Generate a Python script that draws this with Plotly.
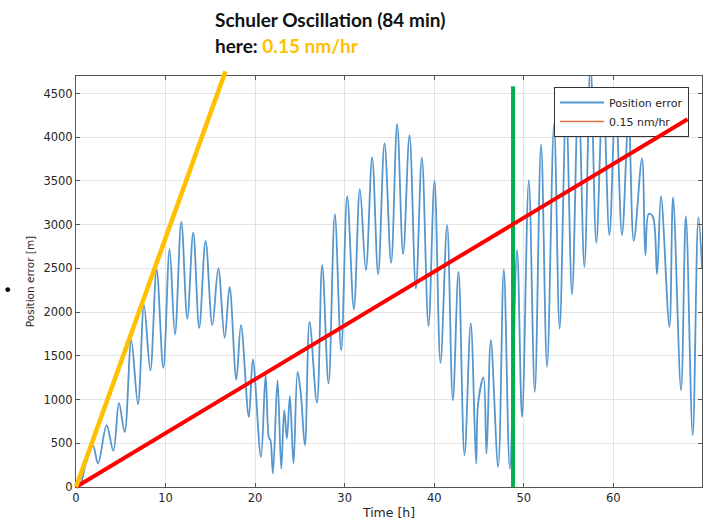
import plotly.graph_objects as go

# ---------------- data ----------------
blue_t = [0.0, 0.45, 1.05, 1.9, 2.46, 3.42, 4.17, 4.80, 5.43, 6.17, 6.92, 7.59, 8.30, 9.00,
          9.75, 10.45, 11.05, 11.76, 12.43, 13.09, 13.76, 14.47, 15.22, 15.89, 16.60, 17.15,
          17.90, 18.42, 19.30, 19.75, 20.65, 21.17, 21.55, 21.70, 21.99, 22.50, 22.92, 23.25,
          23.55, 23.88, 24.29, 24.74, 25.10, 25.56, 26.08, 26.90, 27.49, 28.20, 28.90, 29.61,
          30.28, 31.03, 31.70, 32.37, 33.07, 33.74, 34.45, 35.19, 35.86, 36.53, 37.24, 37.95,
          38.62, 39.36, 40.03, 40.70, 41.44, 42.08, 42.71, 43.38, 44.08, 44.68, 44.90, 45.50,
          45.84, 46.32, 47.14, 47.77, 48.44, 49.25, 49.81, 50.56, 51.23, 51.93, 52.60, 53.38,
          54.00, 54.73, 55.39, 56.10, 56.77, 57.45, 58.10, 58.85, 59.56, 60.25, 60.97, 61.70,
          62.28, 63.20, 63.58, 63.95, 64.40, 64.88, 65.32, 66.26, 66.67, 67.56, 68.10, 68.86,
          69.50, 69.90]
blue_v = [0, 20, 250, 470, 268, 706, 412, 961, 629, 1678, 946, 2079, 1335, 2487,
          1362, 2720, 1744, 3032, 1926, 2911, 1820, 2815, 1850, 2499, 1705, 2288,
          1229, 1850, 801, 1458, 343, 1278, 560, 540, 153, 1221, 210, 878,
          554, 1038, 268, 1316, 1068, 477, 1888, 961, 2537, 1183, 3120, 1564,
          3326, 2030, 3406, 2479, 3769, 2434, 3929, 2563, 4150, 2662, 4024, 2270,
          3769, 1839, 3501, 1419, 2994, 992, 2460, 363, 1870, 268, 954, 1252,
          382, 1678, 229, 2487, 210, 2708, 801, 3509, 1087, 3921, 1373, 4150,
          1812, 4330, 2205, 4520, 2517, 4850, 2792, 4560, 2880, 4420, 2880, 4230,
          2815, 3757, 2651, 3124, 3093, 2434, 3326, 1831, 3311, 1106, 3097, 592,
          3082, 2500]

rate_t = [0, 16.75]        # 0.15 nm/hr line (and painted orange line)
rate_v = [0, 4770]
red_t = [0, 68.45]         # painted red line
red_v = [0, 4215]
green_t = [48.8, 48.8]     # painted green marker
green_v = [0, 4600]

x_ticks = [0, 10, 20, 30, 40, 50, 60]
y_ticks = [0, 500, 1000, 1500, 2000, 2500, 3000, 3500, 4000, 4500]

# ---------------- figure ----------------
fig = go.Figure()
fig.add_trace(go.Scatter(x=blue_t, y=blue_v, mode='lines', name='Position error',
                         line=dict(color='#5596CE', width=1.8, shape='spline', smoothing=1.0)))
fig.add_trace(go.Scatter(x=rate_t, y=rate_v, mode='lines', name='0.15 nm/hr',
                         line=dict(color='#E07040', width=1.5)))


def seg(t, v, color, w):
    return dict(x=t[0], y=v[0], ax=t[1], ay=v[1], xref='x', yref='y', axref='x', ayref='y',
                showarrow=True, arrowhead=0, arrowwidth=w, arrowcolor=color, text='',
                standoff=0, startstandoff=0)


annotations = [
    seg(green_t, green_v, '#00B050', 4),
    seg(red_t, red_v, '#FF0000', 4),
    seg(rate_t, rate_v, '#FFC000', 4.5),
    dict(text='<b>Schuler Oscillation (84 min)</b>', xref='paper', yref='paper',
         x=0.2188, y=1.1363, xanchor='left', yanchor='middle', showarrow=False,
         font=dict(family='Lato', size=19, color='#111111')),
    dict(text="<b>here: <span style='color:#FFC000'>0.15 nm/hr</span></b>", xref='paper', yref='paper',
         x=0.2188, y=1.0754, xanchor='left', yanchor='middle', showarrow=False,
         font=dict(family='Lato', size=19, color='#111111')),
    dict(text='•', xref='paper', yref='paper', x=-0.1102, y=0.4793, xanchor='center', yanchor='middle',
         showarrow=False, font=dict(family='DejaVu Sans', size=16, color='#000000')),
]

fig.update_layout(
    width=704, height=521,
    margin=dict(l=76, r=2, t=76, b=34),
    paper_bgcolor='white', plot_bgcolor='white',
    font=dict(family='DejaVu Sans', color='#262626'),
    showlegend=True,
    legend=dict(x=0.7636, y=0.9732, xanchor='left', yanchor='top', bgcolor='white',
                bordercolor='#333333', borderwidth=1, tracegroupgap=0, itemwidth=44,
                font=dict(family='DejaVu Sans', size=11, color='#262626')),
    annotations=annotations,
)
axis_common = dict(showgrid=True, gridcolor='#E3E3E3', gridwidth=1, showline=True,
                   linecolor='#555555', linewidth=1, mirror='ticks', ticks='inside',
                   ticklen=4, tickcolor='#555555', zeroline=False)
fig.update_xaxes(range=[0, 69.9], tickvals=x_ticks, tickfont=dict(size=11.5),
                 title=dict(text='Time [h]', font=dict(size=12.5), standoff=4), **axis_common)
fig.update_yaxes(range=[0, 4700], tickvals=y_ticks, tickfont=dict(size=11.5),
                 title=dict(text='Position error [m]', font=dict(size=10.5), standoff=6), **axis_common)

fig.write_html("out.html")
